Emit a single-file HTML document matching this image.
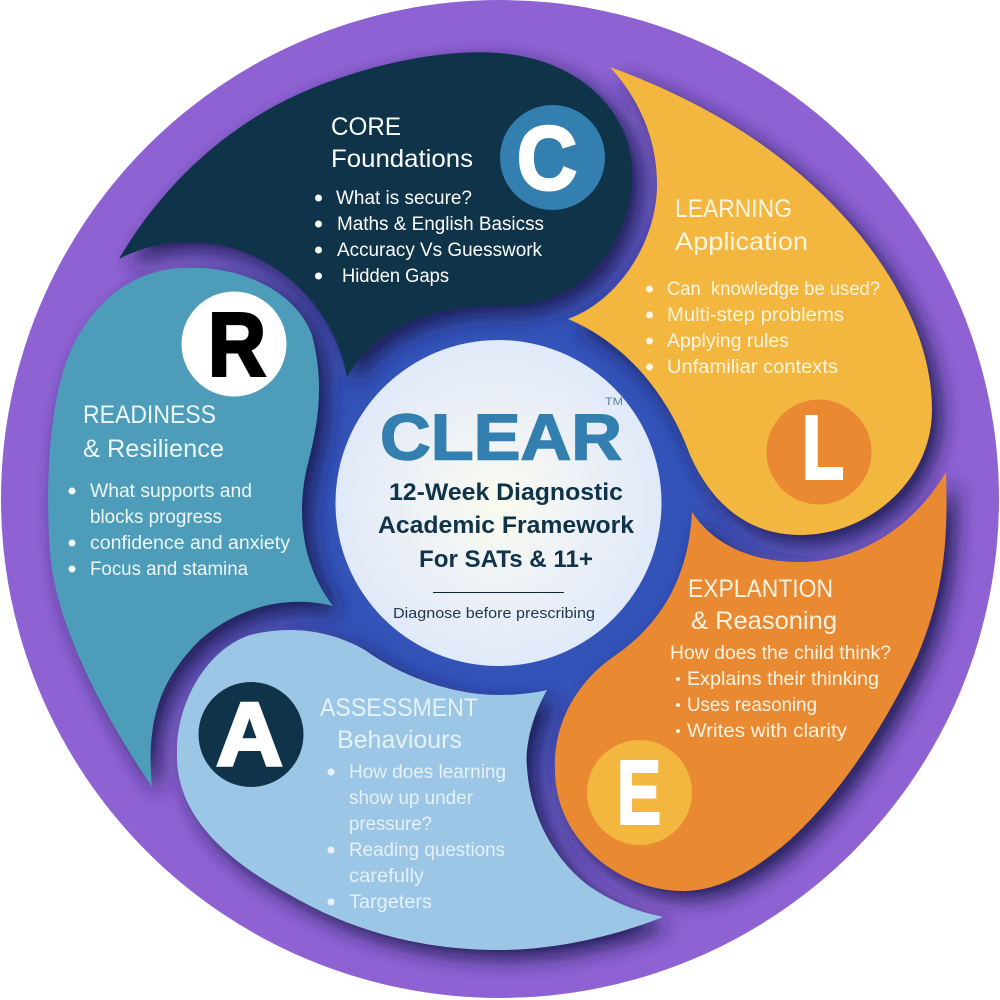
<!DOCTYPE html>
<html><head><meta charset="utf-8"><style>
html,body{margin:0;padding:0;background:#fff;width:1000px;height:1000px;overflow:hidden}
svg{display:block}
text{font-family:"Liberation Sans",sans-serif}
.h{font-size:25px}
.b{font-size:19px}
.c{font-size:24px;font-weight:bold;fill:#0f3349}
.l{font-weight:bold;font-size:90px;stroke-width:3px;stroke-linejoin:miter}
</style></head><body>
<svg width="1000" height="1000" viewBox="0 0 1000 1000" xmlns="http://www.w3.org/2000/svg">
<defs>
<radialGradient id="bg" gradientUnits="userSpaceOnUse" cx="498" cy="502" r="500">
<stop offset="0.38" stop-color="#3353b8"/><stop offset="0.6" stop-color="#5e56bf"/><stop offset="0.88" stop-color="#8e62d2"/><stop offset="1" stop-color="#8e62d2"/>
</radialGradient>
<radialGradient id="ctr" gradientUnits="userSpaceOnUse" cx="498" cy="503" r="163">
<stop offset="0" stop-color="#fbfbee"/><stop offset="0.5" stop-color="#eef2f6"/><stop offset="1" stop-color="#e0e9f8"/>
</radialGradient>
<filter id="sh" x="-10%" y="-10%" width="120%" height="120%"><feGaussianBlur stdDeviation="10"/></filter>
<clipPath id="disc"><circle cx="500" cy="499" r="499"/></clipPath>
<path id="pc" d="M119,259 C165,180 240,110 340,78 C400,57 470,47 515,55 C580,65 630,110 632,170 C633,235 590,305 505,306 C440,303 375,325 347,377 C335,310 280,255 215,244 C180,238 145,245 119,259 Z"/>
<path id="pr" d="M183,268 C120,270 75,320 60,383 C48,430 46,500 50,550 C54,620 100,710 152,787 C146,720 160,680 200,640 C240,605 290,595 333,606 C305,570 295,520 307,467 C318,425 325,385 312,335 C295,290 240,265 183,268 Z"/>
<path id="pa" d="M177,753 C176,705 205,650 250,635 C290,625 330,630 365,650 C400,675 450,695 500,695 C515,695 535,693 547,690 C530,720 525,750 527,767 C530,820 560,870 600,893 C620,905 640,912 663,917 C610,938 550,950 500,950 C420,950 350,930 290,895 C235,865 175,820 177,753 Z"/>
<path id="pe" d="M692,512 C710,540 745,562 800,562 C860,562 915,525 946,472 C948,540 945,590 917,657 C895,705 850,785 790,840 C755,870 720,891 683,891 C620,891 555,840 555,770 C553,720 580,680 613,657 C650,632 688,590 692,512 Z"/>
<path id="pl" d="M610,67 C700,100 790,150 860,235 C900,285 932,345 932,410 C932,480 870,535 800,535 C745,535 710,500 690,455 C670,400 630,345 568,319 C620,300 657,240 657,185 C657,140 640,100 610,67 Z"/>
</defs>
<circle cx="500" cy="499" r="499" fill="url(#bg)"/>
<g clip-path="url(#disc)">
<g filter="url(#sh)" fill="#1d1a52" opacity="0.95" transform="translate(9 9)">
<use href="#pc"/><use href="#pr"/><use href="#pa"/><use href="#pe"/><use href="#pl"/>
</g>
</g>
<use href="#pc" fill="#0f3349"/>
<use href="#pr" fill="#4d9cb9"/>
<use href="#pa" fill="#9bc6e5"/>
<use href="#pe" fill="#e98a32"/>
<use href="#pl" fill="#f3b63e"/>
<circle cx="498.5" cy="503" r="163" fill="url(#ctr)"/>

<circle cx="552.5" cy="157.5" r="52.5" fill="#327fb0"/>
<circle cx="234" cy="344" r="52.5" fill="#fff"/>
<circle cx="819" cy="452" r="52.5" fill="#e98a32"/>
<circle cx="639.5" cy="792.5" r="52.5" fill="#f3b63e"/>
<circle cx="251" cy="734.5" r="52.5" fill="#0f3349"/>
<text class="l" x="517" y="189" fill="#fff" stroke="#fff" textLength="60" lengthAdjust="spacingAndGlyphs">C</text>
<text class="l" x="208" y="375.5" fill="#000" stroke="#000" textLength="58" lengthAdjust="spacingAndGlyphs">R</text>
<text class="l" x="802" y="478.5" fill="#fff" stroke="#fff" textLength="42" lengthAdjust="spacingAndGlyphs">L</text>
<text class="l" x="617" y="823.5" fill="#fff" stroke="#fff" textLength="44" lengthAdjust="spacingAndGlyphs">E</text>
<text class="l" x="216" y="765.5" fill="#fff" stroke="#fff" textLength="67" lengthAdjust="spacingAndGlyphs">A</text>

<g fill="#fff">
<text class="h" x="331" y="135" textLength="70" lengthAdjust="spacingAndGlyphs">CORE</text>
<text class="h" x="331" y="167" textLength="142" lengthAdjust="spacingAndGlyphs">Foundations</text>
<text class="b" x="336" y="204" textLength="136" lengthAdjust="spacingAndGlyphs">What is secure?</text>
<text class="b" x="337" y="230" textLength="207" lengthAdjust="spacingAndGlyphs">Maths &amp; English Basicss</text>
<text class="b" x="337" y="256" textLength="205" lengthAdjust="spacingAndGlyphs">Accuracy Vs Guesswork</text>
<text class="b" x="342" y="282" textLength="107" lengthAdjust="spacingAndGlyphs">Hidden Gaps</text>
<circle cx="318.5" cy="198" r="3.5"/><circle cx="318.5" cy="224" r="3.5"/><circle cx="318.5" cy="250" r="3.5"/><circle cx="318.5" cy="276" r="3.5"/>
</g>
<g fill="#eef8fb">
<text class="h" x="83" y="423" textLength="133" lengthAdjust="spacingAndGlyphs">READINESS</text>
<text class="h" x="83" y="457" textLength="141" lengthAdjust="spacingAndGlyphs">&amp; Resilience</text>
<text class="b" x="90" y="497" textLength="162" lengthAdjust="spacingAndGlyphs">What supports and</text>
<text class="b" x="90" y="523" textLength="132" lengthAdjust="spacingAndGlyphs">blocks progress</text>
<text class="b" x="90" y="549" textLength="200" lengthAdjust="spacingAndGlyphs">confidence and anxiety</text>
<text class="b" x="90" y="575" textLength="158" lengthAdjust="spacingAndGlyphs">Focus and stamina</text>
<circle cx="72" cy="491" r="3.5"/><circle cx="72" cy="543" r="3.5"/><circle cx="72" cy="569" r="3.5"/>
</g>
<g fill="#fff6e2">
<text class="h" x="675" y="217" textLength="117" lengthAdjust="spacingAndGlyphs">LEARNING</text>
<text class="h" x="675" y="250" textLength="133" lengthAdjust="spacingAndGlyphs">Application</text>
<text class="b" x="667" y="295" textLength="213" lengthAdjust="spacingAndGlyphs" xml:space="preserve">Can  knowledge be used?</text>
<text class="b" x="667" y="321" textLength="177" lengthAdjust="spacingAndGlyphs">Multi-step problems</text>
<text class="b" x="667" y="347" textLength="122" lengthAdjust="spacingAndGlyphs">Applying rules</text>
<text class="b" x="667" y="373" textLength="171" lengthAdjust="spacingAndGlyphs">Unfamiliar contexts</text>
<circle cx="649.5" cy="289" r="3.5"/><circle cx="649.5" cy="315" r="3.5"/><circle cx="649.5" cy="341" r="3.5"/><circle cx="649.5" cy="367" r="3.5"/>
</g>
<g fill="#fff3e2">
<text class="h" x="688" y="597" textLength="145" lengthAdjust="spacingAndGlyphs">EXPLANTION</text>
<text class="h" x="691" y="629" textLength="146" lengthAdjust="spacingAndGlyphs">&amp; Reasoning</text>
<text class="b" x="670" y="659" textLength="221" lengthAdjust="spacingAndGlyphs">How does the child think?</text>
<text class="b" x="687" y="685" textLength="192" lengthAdjust="spacingAndGlyphs">Explains their thinking</text>
<text class="b" x="687" y="711" textLength="130" lengthAdjust="spacingAndGlyphs">Uses reasoning</text>
<text class="b" x="687" y="737" textLength="160" lengthAdjust="spacingAndGlyphs">Writes with clarity</text>
<circle cx="678" cy="679" r="2"/><circle cx="678" cy="705" r="2"/><circle cx="678" cy="731" r="2"/>
</g>
<g fill="#e6f1fa">
<text class="h" x="320" y="716" textLength="158" lengthAdjust="spacingAndGlyphs">ASSESSMENT</text>
<text class="h" x="337" y="748" textLength="125" lengthAdjust="spacingAndGlyphs">Behaviours</text>
<text class="b" x="349" y="778" textLength="157" lengthAdjust="spacingAndGlyphs">How does learning</text>
<text class="b" x="349" y="804" textLength="124" lengthAdjust="spacingAndGlyphs">show up under</text>
<text class="b" x="349" y="830" textLength="83" lengthAdjust="spacingAndGlyphs">pressure?</text>
<text class="b" x="349" y="856" textLength="156" lengthAdjust="spacingAndGlyphs">Reading questions</text>
<text class="b" x="349" y="882" textLength="75" lengthAdjust="spacingAndGlyphs">carefully</text>
<text class="b" x="349" y="908" textLength="83" lengthAdjust="spacingAndGlyphs">Targeters</text>
<circle cx="331" cy="772" r="3.5"/><circle cx="331" cy="850" r="3.5"/><circle cx="331" cy="902" r="3.5"/>
</g>

<text x="380" y="459.5" font-size="65" font-weight="bold" fill="#327fb0" stroke="#327fb0" stroke-width="1.5" textLength="242" lengthAdjust="spacingAndGlyphs">CLEAR</text>
<text x="605" y="405" font-size="11" fill="#5f7f9c" textLength="18" lengthAdjust="spacingAndGlyphs">TM</text>
<text class="c" x="389" y="500" textLength="234" lengthAdjust="spacingAndGlyphs">12-Week Diagnostic</text>
<text class="c" x="378" y="533" textLength="256" lengthAdjust="spacingAndGlyphs">Academic Framework</text>
<text class="c" x="419" y="567" textLength="174" lengthAdjust="spacingAndGlyphs">For SATs &amp; 11+</text>
<rect x="433" y="592" width="131" height="1" fill="#0f2535"/>
<text x="393" y="618" font-size="15" fill="#22384a" textLength="202" lengthAdjust="spacingAndGlyphs">Diagnose before prescribing</text>
</svg>
</body></html>
